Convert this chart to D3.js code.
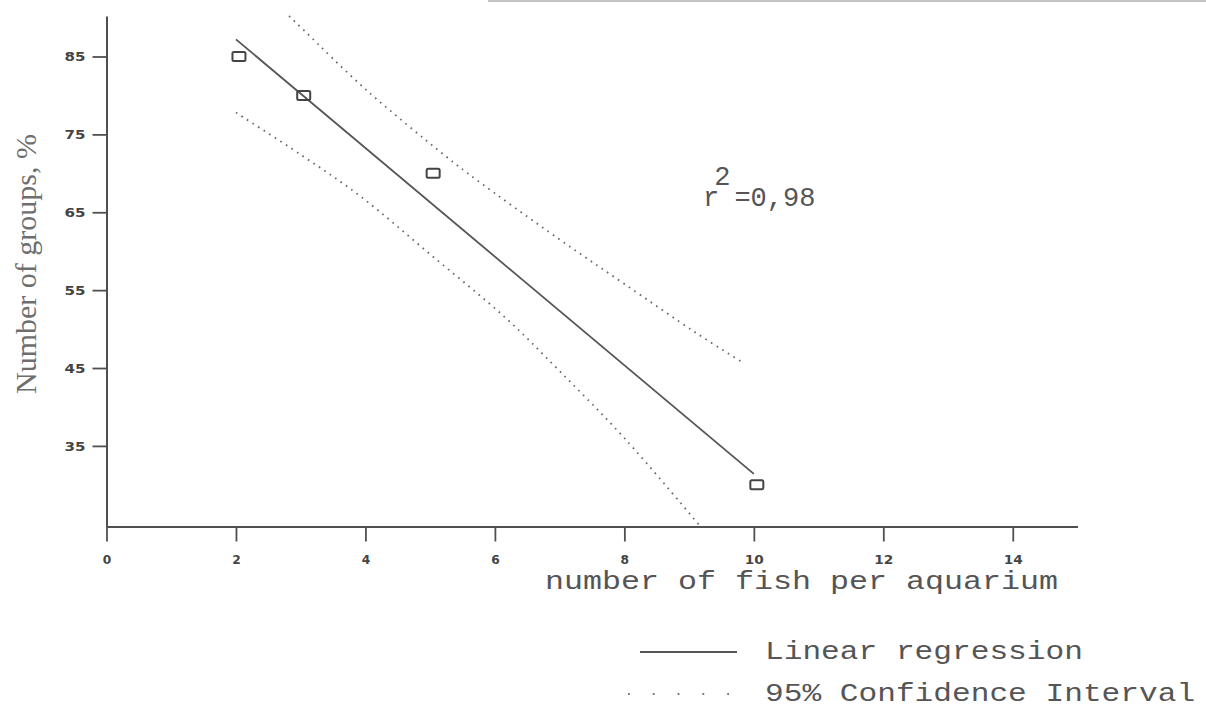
<!DOCTYPE html>
<html>
<head>
<meta charset="utf-8">
<script src="https://cdn.jsdelivr.net/npm/d3@7"></script>
<style>
  html, body { margin: 0; padding: 0; background: #fff; }
  svg { display: block; }
</style>
</head>
<body>
<svg id="chart" width="1206" height="710"></svg>
<script>
// ---- data ----
const pointsX = [2, 3, 5, 10];
const pointsY = [85, 80, 70, 30];
// regression line end points (fitted line)
const regressionLine = [[2, 87.2], [10, 31.4]];
// 95% confidence interval curves
const upperCI = [[2.82, 90.2], [3.07, 88.2], [4.0, 80.8], [5.24, 72.2], [5.71, 69.2], [7.0, 61.5], [8.0, 55.8], [9.11, 49.5], [9.83, 45.7]];
const lowerCI = [[2.0, 77.8], [3.0, 72.4], [3.93, 67.0], [5.0, 59.6], [6.17, 51.4], [7.0, 44.6], [8.0, 36.0], [9.15, 24.9]];
const xTicks = [0, 2, 4, 6, 8, 10, 12, 14];
const yTicks = [35, 45, 55, 65, 75, 85];
const xDomain = [0, 15];
const yDomain = [24.65, 90.2];
const xLabel = "number of fish per aquarium";
const yLabel = "Number of groups, %";
const r2Value = "=0,98";
const legendItems = ["Linear regression", "95% Confidence Interval"];

// ---- drawing ----
const svg = d3.select("#chart");
const axisColor = "#505050";

const x = d3.scaleLinear().domain(xDomain).range([106.5, 1077.5]);
const y = d3.scaleLinear().domain(yDomain).range([526.5, 16]);

// faint scan edge at the top
svg.append("line").attr("x1", 488).attr("x2", 1206).attr("y1", 1).attr("y2", 1)
  .attr("stroke", "#c4c4c4").attr("stroke-width", 2);

// axes
const xAxis = svg.append("g").attr("transform", `translate(0,${y.range()[0]})`)
  .call(d3.axisBottom(x).tickValues(xTicks).tickSize(15).tickSizeOuter(0).tickFormat(d3.format("d")));
const yAxis = svg.append("g").attr("transform", `translate(${x.range()[0]},0)`)
  .call(d3.axisLeft(y).tickValues(yTicks).tickSize(14).tickSizeOuter(0).tickFormat(d3.format("d")));

[xAxis, yAxis].forEach(g => {
  g.select(".domain").attr("stroke", axisColor).attr("stroke-width", 2);
  g.selectAll(".tick line").attr("stroke", axisColor).attr("stroke-width", 1.8);
  g.selectAll(".tick text")
    .attr("fill", "#444")
    .attr("font-family", "DejaVu Sans")
    .attr("font-weight", "bold");
});
xAxis.selectAll(".tick text")
  .attr("font-size", 13)
  .attr("y", 37).attr("dy", 0)
  .each(function(d) {
    const s = String(d);
    d3.select(this).attr("textLength", s.length === 1 ? 8.5 : 19).attr("lengthAdjust", "spacingAndGlyphs");
  });
yAxis.selectAll(".tick text")
  .attr("font-size", 11.5)
  .attr("x", -21).attr("dy", "0.36em")
  .attr("textLength", 21).attr("lengthAdjust", "spacingAndGlyphs");

// regression line
const line = d3.line().x(d => x(d[0])).y(d => y(d[1]));
svg.append("path").datum(regressionLine).attr("d", line)
  .attr("fill", "none").attr("stroke", "#555").attr("stroke-width", 1.8);

// CI curves
const curve = d3.line().x(d => x(d[0])).y(d => y(d[1])).curve(d3.curveCatmullRom.alpha(0.5));
[upperCI, lowerCI].forEach(arr => {
  svg.append("path").datum(arr).attr("d", curve)
    .attr("fill", "none").attr("stroke", "#666").attr("stroke-width", 1.8)
    .attr("stroke-dasharray", "1.6 5").attr("stroke-linecap", "butt");
});

// points (squares)
svg.append("g").selectAll("rect").data(pointsX.map((v, i) => [v, pointsY[i]])).join("rect")
  .attr("x", d => x(d[0]) + 3 - 6.5).attr("y", d => y(d[1]) - 4.5)
  .attr("width", 13).attr("height", 9).attr("rx", 1.5)
  .attr("fill", "none").attr("stroke", "#444").attr("stroke-width", 2);

// r^2 annotation
const r2 = svg.append("text").attr("x", 703).attr("y", 206)
  .attr("font-family", "Liberation Mono").attr("font-size", 27).attr("fill", "#555");
r2.append("tspan").text("r");
r2.append("tspan").attr("dx", -5).attr("dy", -21).text("2");
r2.append("tspan").attr("dx", 4).attr("dy", 21).text(r2Value);

// axis labels
svg.append("text").attr("x", 545).attr("y", 589)
  .attr("font-family", "Liberation Mono").attr("font-size", 25).attr("fill", "#555")
  .attr("textLength", 513).attr("lengthAdjust", "spacingAndGlyphs")
  .text(xLabel);

svg.append("text")
  .attr("transform", "translate(36,264) rotate(-90)")
  .attr("text-anchor", "middle")
  .attr("font-family", "Liberation Serif").attr("font-size", 30).attr("fill", "#6e6e6e")
  .text(yLabel);

// legend
svg.append("line").attr("x1", 640).attr("x2", 737).attr("y1", 652).attr("y2", 652)
  .attr("stroke", "#555").attr("stroke-width", 1.8);
svg.append("line").attr("x1", 628).attr("x2", 735).attr("y1", 694).attr("y2", 694)
  .attr("stroke", "#777").attr("stroke-width", 1.8).attr("stroke-dasharray", "1.8 23");

legendItems.forEach((t, i) => {
  svg.append("text").attr("x", 765).attr("y", 659 + i * 42)
    .attr("font-family", "Liberation Mono").attr("font-size", 26).attr("fill", "#555")
    .attr("textLength", t.length * 18.7).attr("lengthAdjust", "spacingAndGlyphs")
    .text(t);
});
</script>
</body>
</html>
